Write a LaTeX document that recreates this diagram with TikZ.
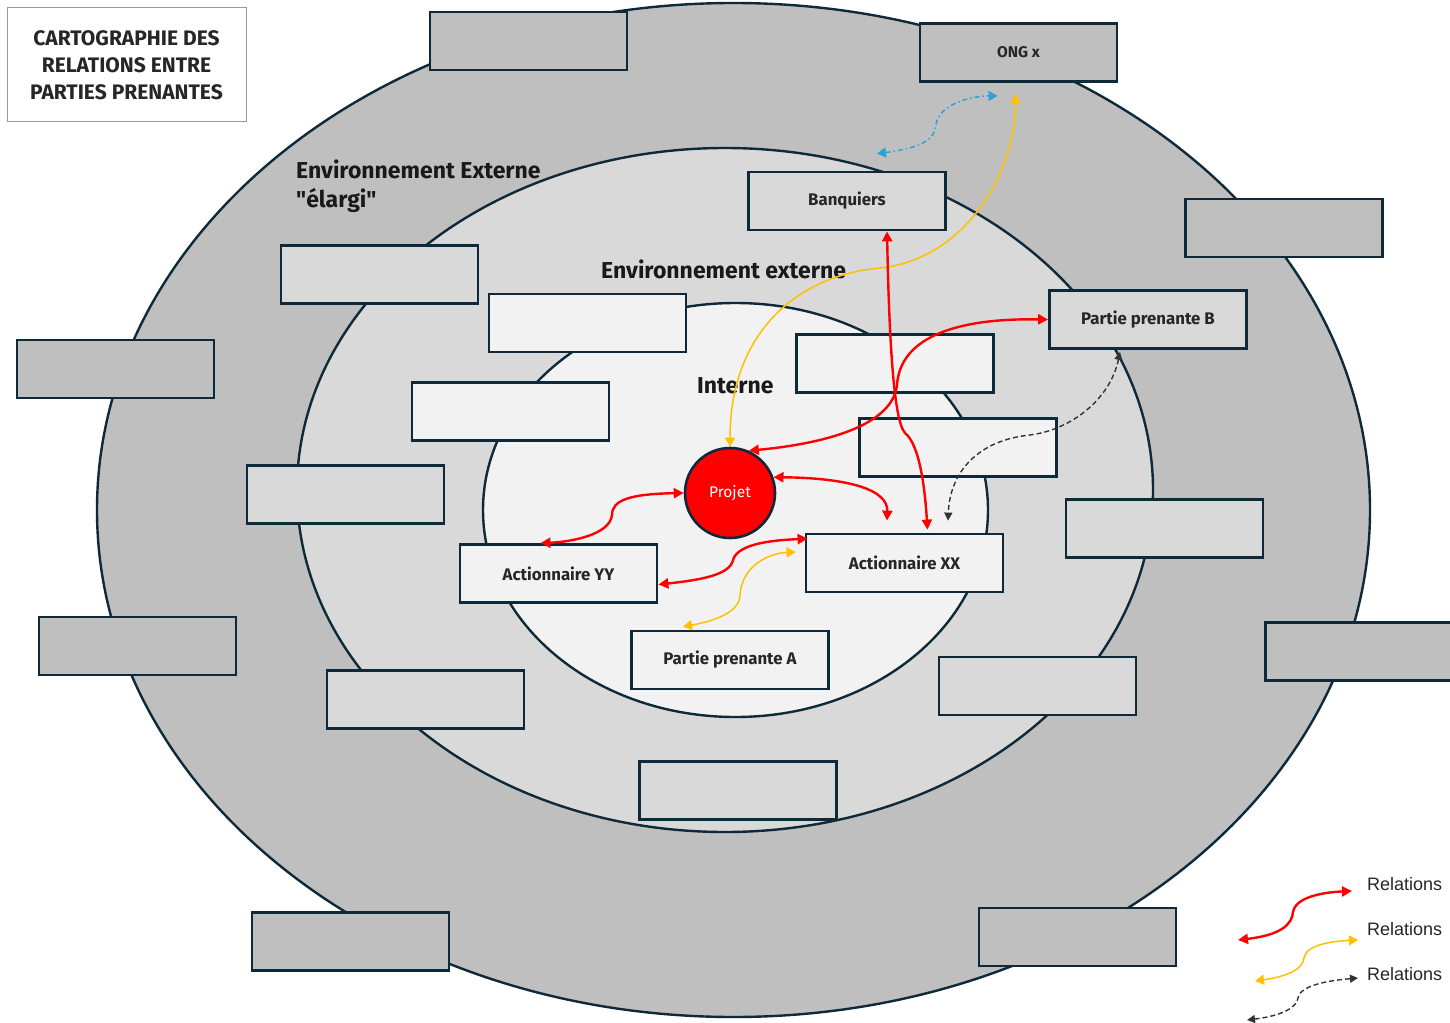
\documentclass[tikz,border=0pt]{standalone}
\usepackage{fontspec}
\setmainfont{Fira Sans}
\newfontfamily\legfont{Liberation Sans}
\newcommand{\straightq}{{\addfontfeature{Ligatures=TeXOff}"}}
\usetikzlibrary{arrows.meta}
\definecolor{ringA}{HTML}{BFBFBF}
\definecolor{ringB}{HTML}{D9D9D9}
\definecolor{ringC}{HTML}{F2F2F2}
\definecolor{edge}{HTML}{0E2A3A}
\definecolor{relred}{HTML}{FF0000}
\definecolor{relyel}{HTML}{FFC000}
\definecolor{relblue}{HTML}{2AA3D8}
\definecolor{reldash}{HTML}{333333}
\tikzset{
  box/.style={draw=edge, line width=2.8pt, minimum width=197pt, minimum height=58pt, inner sep=0pt, font=\bfseries\fontsize{16.8}{19}\selectfont, text=black!85},
  outbox/.style={box, fill=ringA},
  midbox/.style={box, fill=ringB},
  inbox/.style={box, fill=ringC},
  ring/.style={draw=edge, line width=2.4pt},
  redrel/.style={draw=relred, line width=2.4pt, {Triangle[length=10pt,width=10pt]}-{Triangle[length=10pt,width=10pt]}},
  yelrel/.style={draw=relyel, line width=1.5pt, {Triangle[length=9pt,width=10pt]}-{Triangle[length=9pt,width=10pt]}},
  bluerel/.style={draw=relblue, line width=1.5pt, dash pattern=on 5pt off 3pt on 1.5pt off 3pt, {Triangle[length=9pt,width=10pt]}-{Triangle[length=9pt,width=10pt]}},
  dashrel/.style={draw=reldash, line width=1.4pt, dash pattern=on 5pt off 3pt, {Triangle[length=8pt,width=8pt]}-{Triangle[length=8pt,width=8pt]}},
  zonelabel/.style={anchor=west, inner sep=0pt, font=\bfseries\fontsize{23}{27}\selectfont, text=black!90},
  legtext/.style={anchor=west, inner sep=0pt, font=\legfont\fontsize{18}{21}\selectfont, text=black!85}
}
\begin{document}
\begin{tikzpicture}[x=1pt,y=-1pt]
\useasboundingbox[fill=white] (0,0) rectangle (1450,1022);
% rings
\draw[ring, fill=ringA] (733.5,510) ellipse [x radius=636.5, y radius=507];
\draw[ring, fill=ringB] (725,490) ellipse [x radius=428, y radius=342];
\draw[ring, fill=ringC] (735.5,510) ellipse [x radius=252.5, y radius=207];
% title
\node[draw=black!40, line width=1pt, fill=white, minimum width=239pt, minimum height=114pt, inner sep=0pt, align=center, font=\bfseries\fontsize{21}{27}\selectfont, text=black!85] (title) at (126.5,65) {CARTOGRAPHIE DES\\RELATIONS ENTRE\\PARTIES PRENANTES};
% outer boxes
\node[outbox] (o1) at (528.5,41) {};
\node[outbox, font=\bfseries\fontsize{15.5}{17}\selectfont] (ong) at (1018.5,52.5) {ONG x};
\node[outbox] (o3) at (1284,228) {};
\node[outbox] (o4) at (115.5,369) {};
\node[outbox] (o5) at (137.5,646) {};
\node[outbox] (o6) at (1364,651.5) {};
\node[outbox] (o7) at (350.5,941.5) {};
\node[outbox] (o8) at (1077.5,937) {};
% middle boxes
\node[midbox] (m1) at (379.5,274.5) {};
\node[midbox] (banq) at (847,201) {Banquiers};
\node[midbox] (ppb) at (1148,319.5) {Partie prenante B};
\node[midbox] (m4) at (345.5,494.5) {};
\node[midbox] (m5) at (1164.5,528.5) {};
\node[midbox] (m6) at (425.5,699.5) {};
\node[midbox] (m7) at (1037.5,686) {};
\node[midbox] (m8) at (738,790.5) {};
% inner boxes
\node[inbox] (i1) at (587.5,323) {};
\node[inbox] (i2) at (895,363.5) {};
\node[inbox] (i3) at (510.5,411.5) {};
\node[inbox] (i4) at (958,447.5) {};
\node[inbox] (ayy) at (558.5,573.5) {Actionnaire YY};
\node[inbox] (axx) at (904.5,563) {Actionnaire XX};
\node[inbox] (ppa) at (730,660) {Partie prenante A};
% project
\node[circle, draw=edge, line width=2.6pt, fill=relred, minimum size=90pt, inner sep=0pt, text=white, font=\fontsize{15.5}{17}\selectfont] (projet) at (730,493) {Projet};
% zone labels
\node[zonelabel] (lz1) at (296,169) {Environnement Externe};
\node[zonelabel] (lz2) at (296,200) {\straightq élargi\straightq};
\node[zonelabel] (lz3) at (601,269) {Environnement externe};
\node[zonelabel] (lz4) at (697,386) {Interne};
% relations
\draw[yelrel] (projet.north) .. controls (730,330) and (800,275) .. (880,268) .. controls (960,260) and (1015,180) .. ([shift={(-3,11)}]ong.south);
\draw[bluerel] ([shift={(30,-17)}]banq.north) .. controls (920,148) and (935,140) .. (936,125) .. controls (938,105) and (970,96) .. ([shift={(-21,13)}]ong.south);
\draw[redrel] (ppb.west) .. controls (950,318) and (900,340) .. (897,385) .. controls (892,430) and (810,445) .. (projet.66);
\draw[redrel] ([xshift=40pt]banq.south) .. controls (889,330) and (893,420) .. (905,433) .. controls (920,445) and (925,490) .. ([shift={(23,-3)}]axx.north);
\draw[redrel] (projet.20) .. controls (850,478) and (888,490) .. ([shift={(-17.5,-12)}]axx.north);
\draw[redrel] (projet.west) .. controls (630,494) and (612,500) .. (612,515) .. controls (610,535) and (570,542) .. ([xshift=-18pt]ayy.north);
\draw[redrel] ([shift={(0,11)}]ayy.east) .. controls (700,580) and (730,575) .. (733,560) .. controls (738,542) and (780,540) .. ([shift={(3,6)}]axx.north west);
\draw[yelrel] ([shift={(-47,-3)}]ppa.north) .. controls (720,620) and (740,610) .. (740,595) .. controls (742,565) and (770,553) .. ([shift={(-9,-11)}]axx.west);
\draw[dashrel] ([shift={(-28,2)}]ppb.south) .. controls (1110,400) and (1070,430) .. (1030,435) .. controls (980,440) and (950,470) .. ([shift={(43.5,-12)}]axx.north);
% legend
\coordinate (la1) at (1238,940); \coordinate (lb1) at (1352,891);
\coordinate (la2) at (1255,981); \coordinate (lb2) at (1358,940);
\coordinate (la3) at (1247,1020); \coordinate (lb3) at (1358,978);
\draw[redrel] (la1) .. controls (1280,935) and (1292,925) .. (1293,912) .. controls (1296,895) and (1330,892) .. (lb1);
\draw[yelrel] (la2) .. controls (1290,976) and (1303,968) .. (1304,958) .. controls (1306,944) and (1335,941) .. (lb2);
\draw[dashrel] (la3) .. controls (1280,1016) and (1297,1008) .. (1298,998) .. controls (1300,984) and (1335,980) .. (lb3);
\node[legtext] (t1) at (1367,884) {Relations};
\node[legtext] (t2) at (1367,929) {Relations};
\node[legtext] (t3) at (1367,974) {Relations};
\end{tikzpicture}
\end{document}
